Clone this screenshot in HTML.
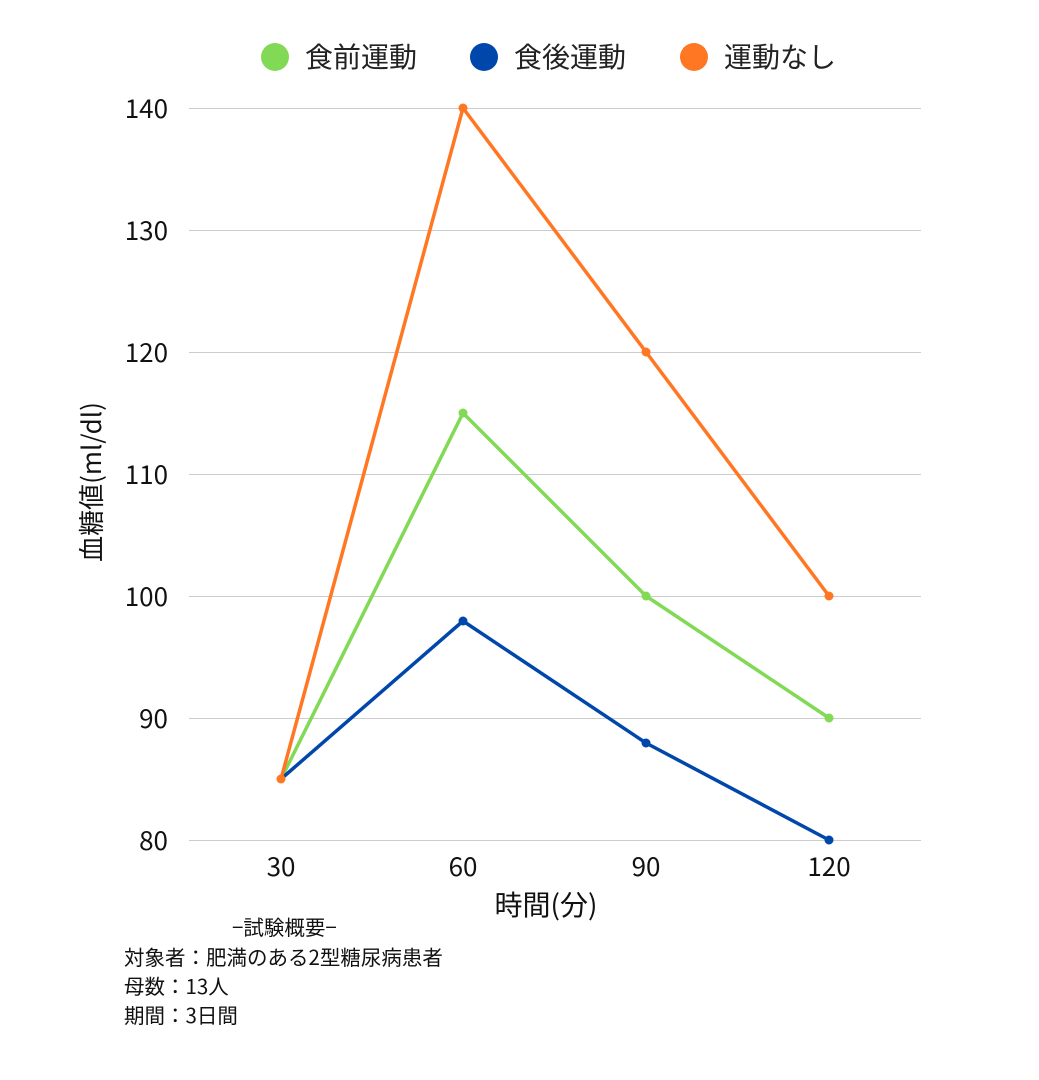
<!DOCTYPE html>
<html><head><meta charset="utf-8"><style>
body{margin:0;background:#fff;}
svg{display:block;font-family:"Noto Sans CJK JP","Liberation Sans",sans-serif;}
</style></head><body>
<svg width="1039" height="1080" viewBox="0 0 1039 1080" xmlns="http://www.w3.org/2000/svg">
<rect width="1039" height="1080" fill="#fff"/>
<g fill="#222" font-size="28">
<circle cx="275" cy="57" r="14" fill="#82d955"/><text x="305" y="67">食前運動</text>
<circle cx="484" cy="57" r="14" fill="#0047ab"/><text x="514" y="67">食後運動</text>
<circle cx="694" cy="57" r="14" fill="#ff7722"/><text x="724" y="67">運動なし</text>
</g>
<g stroke="#cccccc" stroke-width="1">
<line x1="189" x2="921" y1="108.5" y2="108.5"/>
<line x1="189" x2="921" y1="230.5" y2="230.5"/>
<line x1="189" x2="921" y1="352.5" y2="352.5"/>
<line x1="189" x2="921" y1="474.5" y2="474.5"/>
<line x1="189" x2="921" y1="596.5" y2="596.5"/>
<line x1="189" x2="921" y1="718.5" y2="718.5"/>
<line x1="189" x2="921" y1="840.5" y2="840.5"/>
</g>
<g fill="#111" font-size="26" text-anchor="end">
<text x="168" y="118">140</text><text x="168" y="240">130</text><text x="168" y="362">120</text>
<text x="168" y="484">110</text><text x="168" y="606">100</text><text x="168" y="728">90</text><text x="168" y="850">80</text>
</g>
<g fill="#111" font-size="26" text-anchor="middle">
<text x="281" y="876">30</text><text x="463" y="876">60</text><text x="646" y="876">90</text><text x="829" y="876">120</text>
<text x="546" y="915" font-size="28">時間(分)</text>
<text transform="translate(101,482) rotate(-90)">血糖値(ml/dl)</text>
</g>
<g fill="none" stroke-width="3.5" stroke-linejoin="round">
<polyline stroke="#82d955" points="281,779 463,413 646,596 829,718"/>
<polyline stroke="#0047ab" points="281,779 463,621 646,743 829,840"/>
<polyline stroke="#ff7722" points="281,779 463,108 646,352 829,596"/>
</g>
<g fill="#82d955"><circle cx="463" cy="413" r="4.5"/><circle cx="646" cy="596" r="4.5"/><circle cx="829" cy="718" r="4.5"/></g>
<g fill="#0047ab"><circle cx="463" cy="621" r="4.5"/><circle cx="646" cy="743" r="4.5"/><circle cx="829" cy="840" r="4.5"/></g>
<g fill="#ff7722"><circle cx="281" cy="779" r="4.5"/><circle cx="463" cy="108" r="4.5"/><circle cx="646" cy="352" r="4.5"/><circle cx="829" cy="596" r="4.5"/></g>
<g fill="#111" font-size="20.5">
<text x="232" y="935">−試験概要−</text>
<text x="124" y="965">対象者：肥満のある2型糖尿病患者</text>
<text x="124" y="994">母数：13人</text>
<text x="124" y="1023">期間：3日間</text>
</g>
</svg>
</body></html>
